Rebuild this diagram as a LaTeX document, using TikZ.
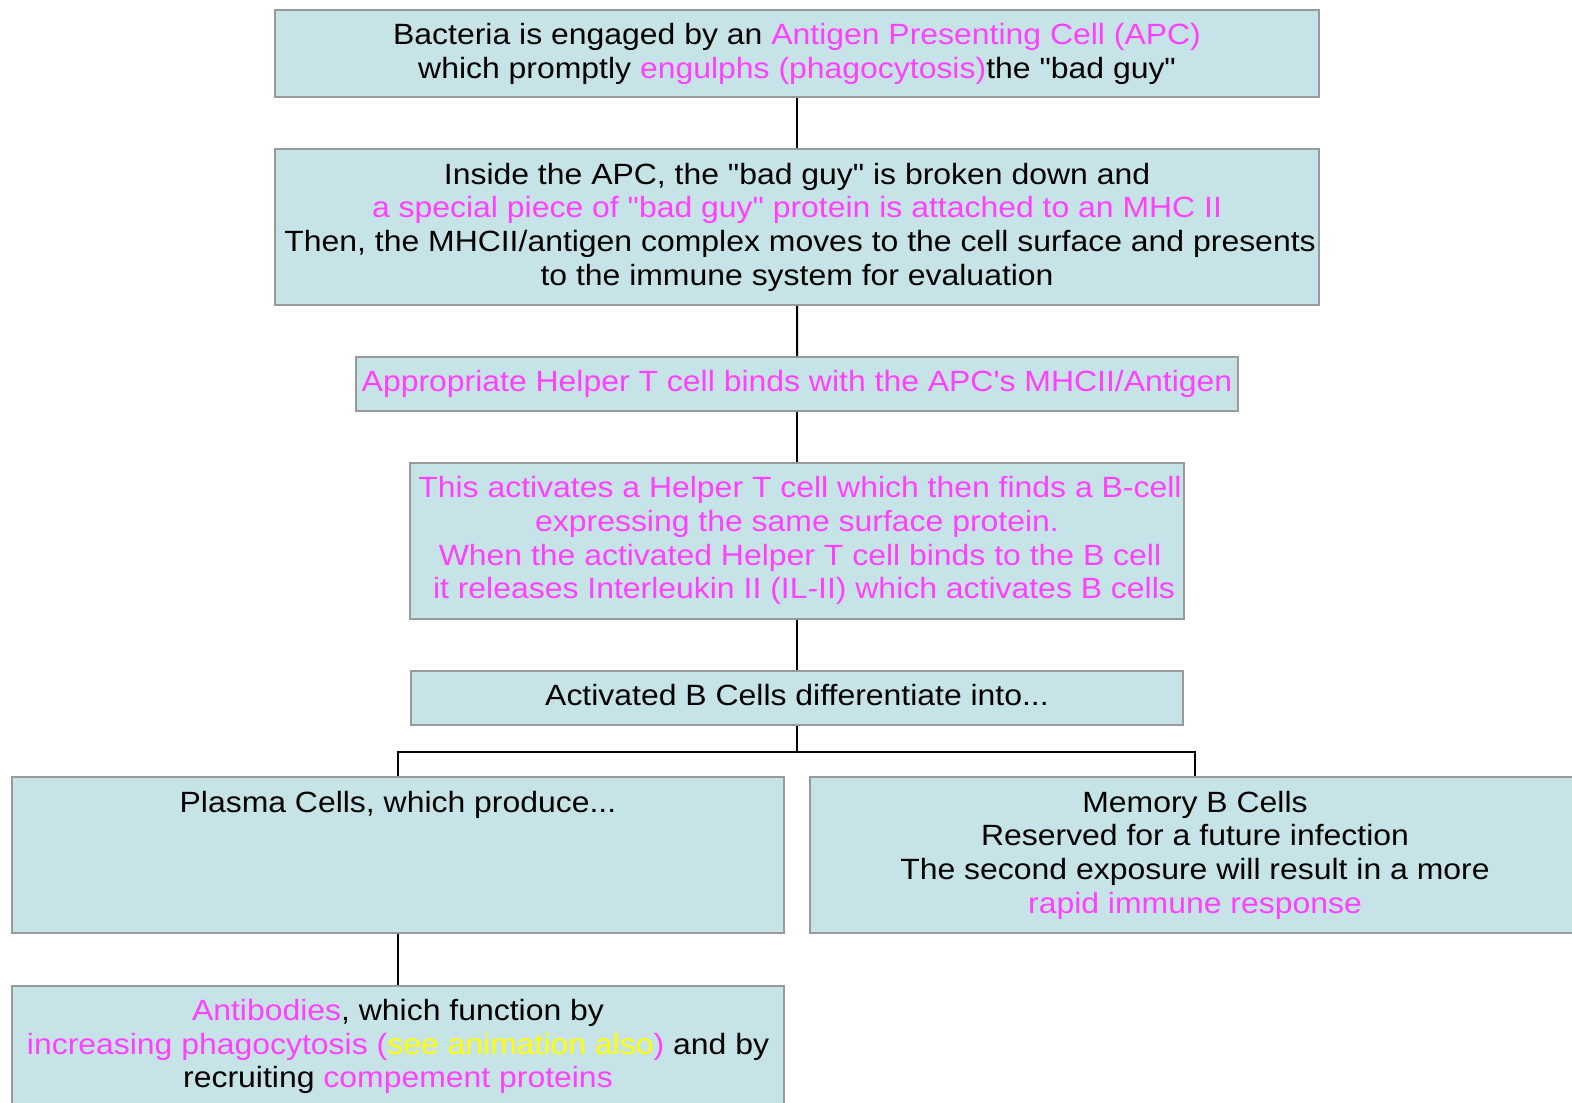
\documentclass[tikz,border=0pt]{standalone}
\usepackage{fontspec}
\setmainfont{Liberation Sans}[FakeStretch=1.09, Ligatures=TeXOff]
\definecolor{boxfill}{HTML}{C6E4E7}
\definecolor{boxline}{HTML}{999999}
\definecolor{mag}{HTML}{FF40FF}
\definecolor{yel}{HTML}{FFFF00}
\begin{document}
\begin{tikzpicture}[x=1pt,y=-1pt,
  box/.style={draw=boxline, line width=2pt, fill=boxfill, inner sep=0pt,
    align=center, font=\fontsize{29.3}{33.7}\selectfont, anchor=north west},
  link/.style={draw=black, line width=2pt}]
\clip (0,0) rectangle (1572,1103);
\fill[white] (0,0) rectangle (1572,1103);
\node[box, minimum width=1044.7pt, minimum height=87.3pt] (b1) at (273.7,9)
  {Bacteria is engaged by an {\color{mag}Antigen Presenting Cell (APC)}\\
   which promptly {\color{mag}engulphs (phagocytosis)}the "bad guy"};
\node[box, minimum width=1044.7pt, minimum height=155.4pt] (b2) at (273.7,148.4)
  {Inside the APC, the "bad guy" is broken down and\\
   {\color{mag}a special piece of "bad guy" protein is attached to an MHC II}\\
   \hspace*{6pt}Then, the MHCII/antigen complex moves to the cell surface and presents\\
   to the immune system for evaluation};
\node[box, minimum width=882pt, minimum height=54pt] (b3) at (355,356)
  {\color{mag}Appropriate Helper T cell binds with the APC's MHCII/Antigen};
\node[box, minimum width=774pt, minimum height=155.6pt] (b4) at (409,462)
  {\color{mag}\hspace*{6pt}This activates a Helper T cell which then finds a B-cell\\
   \color{mag}expressing the same surface protein.\\
   \color{mag}\hspace*{6pt}When the activated Helper T cell binds to the B cell\\
   \color{mag}\hspace*{14pt}it releases Interleukin II (IL-II) which activates B cells};
\node[box, minimum width=772pt, minimum height=54pt] (b5) at (410,670)
  {Activated B Cells differentiate into...\vphantom{p}};
\node[box, minimum width=772pt, minimum height=156pt] (b6) at (11,776)
  {Plasma Cells, which produce...\\ \mbox{}\\ \mbox{}\\ \vphantom{p}};
\node[box, minimum width=770pt, minimum height=156pt] (b7) at (809,776)
  {Memory B Cells\\
   Reserved for a future infection\\
   The second exposure will result in a more\\
   {\color{mag}rapid immune response}};
\node[box, minimum width=772pt, minimum height=156pt] (b8) at (11,984.5)
  {{\color{mag}Antibodies}, which function by\\
   {\color{mag}increasing phagocytosis ({\color{yel}see animation also})} and by\\
   recruiting {\color{mag}compement proteins}\\ \vphantom{p}};
\draw[link] (b1.south) -- (b2.north);
\draw[link] (b2.south) -- (b3.north);
\draw[link] (b3.south) -- (b4.north);
\draw[link] (b4.south) -- (b5.north);
\coordinate (fork) at ([yshift=-26pt]b5.south);
\draw[link] (b5.south) -- (fork) -| (b6.north);
\draw[link] (fork) -| (b7.north);
\draw[link] (b6.south) -- (b8.north);
\end{tikzpicture}
\end{document}
